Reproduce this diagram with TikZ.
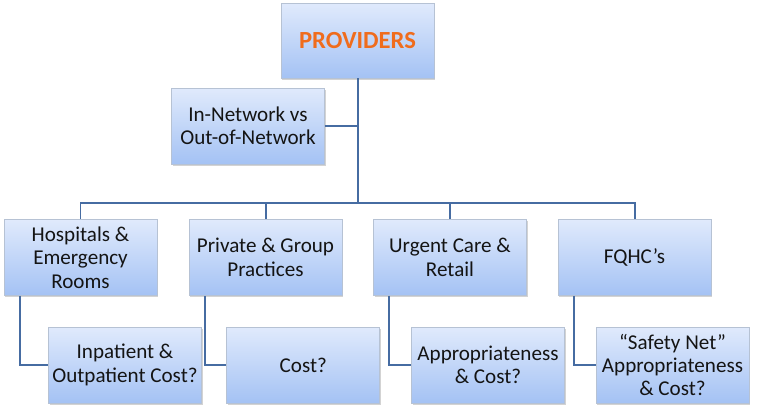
\documentclass[tikz,border=0pt]{standalone}
\usepackage{fontspec}
\setmainfont{Carlito}
\usetikzlibrary{calc,shadows}
\definecolor{boxtop}{RGB}{224,234,252}
\definecolor{boxbot}{RGB}{164,194,244}
\definecolor{boxline}{RGB}{182,194,212}
\definecolor{linkblue}{RGB}{70,108,162}
\definecolor{provorange}{RGB}{240,108,28}
\tikzset{
  card/.style={draw=boxline,line width=0.6pt,top color=boxtop,bottom color=boxbot,
    drop shadow={shadow xshift=1.2pt,shadow yshift=-1.5pt,opacity=0.35},
    minimum width=153*0.03cm,minimum height=76*0.03cm,inner sep=2pt,
    align=center,font=\fontsize{18}{20}\selectfont,text=black!92},
  link/.style={draw=linkblue,line width=1.7pt}
}
\begin{document}
\begin{tikzpicture}[x=0.03cm,y=-0.03cm]
  \useasboundingbox (0,0) rectangle (768,410);
  % top of the tree
  \node[card,minimum height=75*0.03cm,font=\fontsize{21}{24}\bfseries,text=provorange]
    (prov) at (357.5,40.5) {PROVIDERS};
  \node[card] (innet) at (248,126) {In-Network vs\\Out-of-Network};
  % provider types
  \node[card] (hosp) at (80.5,257.5) {Hospitals \&\\Emergency\\Rooms};
  \node[card] (priv) at (265.5,257.5) {Private \& Group\\Practices};
  \node[card] (urg)  at (450,257.5) {Urgent Care \&\\Retail};
  \node[card] (fqhc) at (634.5,257.5) {FQHC’s};
  % questions under each type
  \node[card] (inpat) at (125,365) {Inpatient \&\\Outpatient Cost?};
  \node[card] (cost)  at (303.3,365) {Cost?};
  \node[card] (appr)  at (488,365) {Appropriateness\\\& Cost?};
  \node[card] (safe)  at (672.5,365) {“Safety Net”\\Appropriateness\\\& Cost?};

  \coordinate (bus) at (0,203);
  \path[link] (prov.south) -- (prov.south |- bus);
  \path[link] (innet.east) -- (innet.east -| prov.south);
  \path[link] (hosp.north) -- (hosp.north |- bus) -- (fqhc.north |- bus) -- (fqhc.north);
  \path[link] (priv.north) -- (priv.north |- bus);
  \path[link] (urg.north) -- (urg.north |- bus);
  % side links down to the question boxes
  \foreach \up/\down in {hosp/inpat,priv/cost,urg/appr,fqhc/safe}
    \path[link] ($(\up.south west)+(16,0)$) |- (\down.west);
\end{tikzpicture}
\end{document}
